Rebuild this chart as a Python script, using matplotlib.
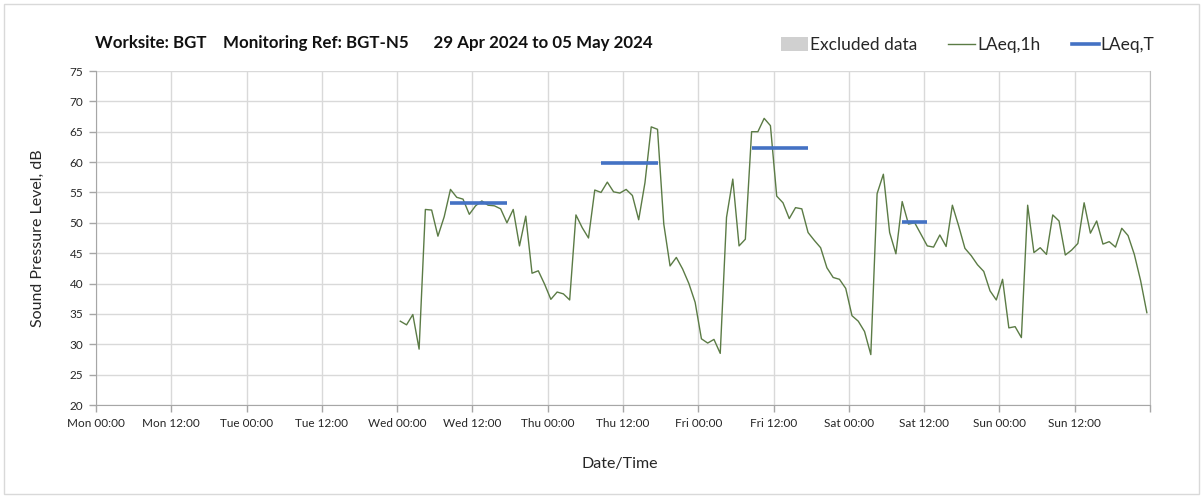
import matplotlib
matplotlib.use("Agg")
import matplotlib.pyplot as plt
import matplotlib.dates as mdates
from matplotlib.patches import Rectangle
from matplotlib.lines import Line2D
from matplotlib.patches import Patch
from matplotlib.ticker import FuncFormatter
import pandas as pd

plt.rcParams['font.family'] = ['Lato', 'DejaVu Sans']

# ---- data ----
title = "Worksite: BGT    Monitoring Ref: BGT-N5      29 Apr 2024 to 05 May 2024"
first_sample = "2024-05-01 00:30"
laeq_1h = [
    33.8, 33.2, 34.9, 29.2, 52.2, 52.1, 47.8, 51.0, 55.5, 54.2, 53.9, 51.4,
    52.8, 53.6, 52.9, 52.8, 52.3, 50.0, 52.2, 46.2, 51.1, 41.7, 42.1, 39.9,
    37.4, 38.6, 38.3, 37.3, 51.3, 49.2, 47.5, 55.4, 55.0, 56.7, 55.1, 54.9,
    55.5, 54.5, 50.5, 56.6, 65.8, 65.4, 49.8, 42.9, 44.3, 42.4, 40.0, 36.9,
    30.9, 30.2, 30.8, 28.5, 50.9, 57.2, 46.2, 47.3, 65.0, 65.0, 67.2, 66.0,
    54.4, 53.3, 50.7, 52.5, 52.3, 48.4, 47.1, 45.9, 42.6, 41.0, 40.7, 39.2,
    34.7, 33.8, 32.1, 28.3, 54.8, 58.0, 48.4, 44.9, 53.5, 49.8, 50.0, 48.1,
    46.2, 46.0, 48.0, 46.1, 52.9, 49.5, 45.8, 44.6, 43.1, 42.0, 38.8, 37.3,
    40.7, 32.7, 32.9, 31.1, 52.9, 45.1, 45.9, 44.8, 51.3, 50.3, 44.7, 45.5,
    46.6, 53.3, 48.3, 50.3, 46.5, 46.9, 46.0, 49.1, 47.9, 44.8, 40.5, 35.2,
]
laeq_t_start = ["2024-05-01 08:30", "2024-05-02 08:30", "2024-05-03 08:30", "2024-05-04 08:30"]
laeq_t_end = ["2024-05-01 17:30", "2024-05-02 17:30", "2024-05-03 17:30", "2024-05-04 12:30"]
laeq_t = [53.2, 59.9, 62.4, 50.2]
x_start = "2024-04-29 00:00"
x_end = "2024-05-06 00:00"

times = pd.date_range(first_sample, periods=len(laeq_1h), freq="h")

W, H = 1203, 498
fig = plt.figure(figsize=(W / 100, H / 100), dpi=100)
fig.patches.append(Rectangle((4 / W, 4 / H), 1 - 8 / W, 1 - 8 / H, transform=fig.transFigure,
                             fill=False, edgecolor="#d9d9d9", linewidth=1))
ax = fig.add_axes([96 / W, 1 - 405 / H, (1150 - 96) / W, (405 - 71) / H])

green = "#5b7b45"
blue = "#4472c4"
ax.plot(times, laeq_1h, color=green, linewidth=1.0, zorder=3)
for s, e, v in zip(laeq_t_start, laeq_t_end, laeq_t):
    ax.plot([pd.Timestamp(s), pd.Timestamp(e)], [v, v], color=blue, linewidth=2.6,
            solid_capstyle="butt", zorder=4)

xmin, xmax = pd.Timestamp(x_start), pd.Timestamp(x_end)
ax.set_xlim(xmin, xmax)
ax.set_ylim(20, 75)
ax.set_yticks(range(20, 76, 5))
ax.xaxis.set_major_locator(mdates.HourLocator(byhour=[0, 12]))
xmax_num = mdates.date2num(xmax)


def fmt(x, pos):
    if abs(x - xmax_num) < 1e-6:
        return ""
    return mdates.num2date(x).strftime("%a %H:%M")


ax.xaxis.set_major_formatter(FuncFormatter(fmt))
ax.grid(True, color="#d9d9d9", linewidth=1.0)
ax.set_axisbelow(True)
ax.spines["top"].set_visible(False)
ax.spines["right"].set_color("#bfbfbf")
ax.spines["left"].set_color("#a6a6a6")
ax.spines["bottom"].set_color("#a6a6a6")
ax.tick_params(axis="both", colors="#a6a6a6", labelcolor="#262626", labelsize=8.5,
               length=5, width=1)
ax.tick_params(axis="y", pad=4)
ax.tick_params(axis="x", pad=4)

fig.text(38 / W, 1 - 238 / H, "Sound Pressure Level, dB", rotation=90, ha="center",
         va="center", fontsize=11.5, color="#262626")
fig.text(620 / W, 1 - 464 / H, "Date/Time", ha="center", va="center", fontsize=11.5,
         color="#262626")
fig.text(95 / W, 1 - 43 / H, title, ha="left", va="center", fontsize=12.2,
         fontweight="bold", color="#111111")

handles = [Patch(facecolor="#d0d0d0", edgecolor="none"),
           Line2D([], [], color=green, linewidth=1.0),
           Line2D([], [], color=blue, linewidth=2.6)]
labels = ["Excluded data", "LAeq,1h", "LAeq,T"]
fig.legend(handles, labels, loc="center right", bbox_to_anchor=(1170 / W, 1 - 45 / H),
           ncol=3, frameon=False, fontsize=12.5, handlelength=1.55, handletextpad=0.12,
           columnspacing=1.8, handleheight=0.8, labelcolor="#262626")

fig.savefig("out.png", dpi=100)
